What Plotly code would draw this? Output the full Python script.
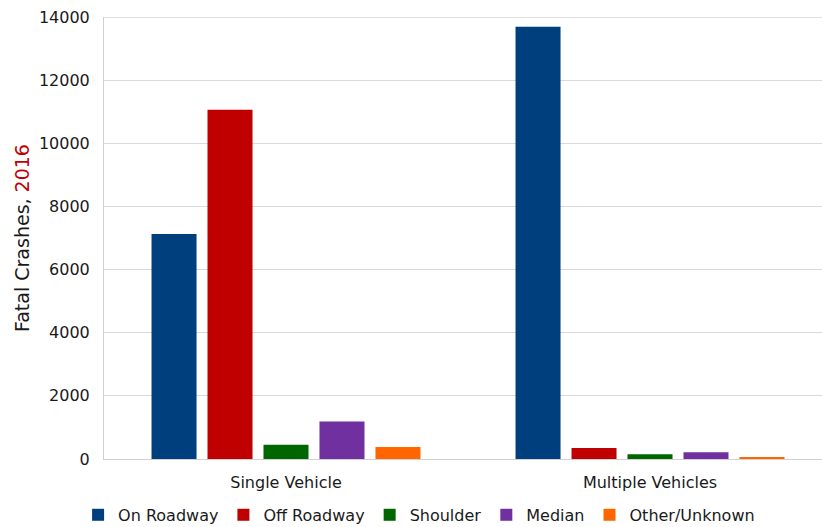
import plotly.graph_objects as go

categories = ["Single Vehicle", "Multiple Vehicles"]
series_names = ["On Roadway", "Off Roadway", "Shoulder", "Median", "Other/Unknown"]
on_roadway = [7130, 13690]
off_roadway = [11060, 350]
shoulder = [450, 150]
median = [1190, 210]
other_unknown = [380, 60]
colors = ["#003F7D", "#C00000", "#006600", "#7030A0", "#FF6600"]
y_ticks = [0, 2000, 4000, 6000, 8000, 10000, 12000, 14000]

series_values = [on_roadway, off_roadway, shoulder, median, other_unknown]

font_family = "DejaVu Sans, Verdana, sans-serif"

fig = go.Figure()
for name, vals, col in zip(series_names, series_values, colors):
    fig.add_trace(go.Bar(
        x=categories, y=vals, name=name,
        marker=dict(color=col, line=dict(width=0)),
    ))

fig.update_layout(
    width=822, height=527,
    margin=dict(l=104, r=0, t=17, b=68, autoexpand=False),
    paper_bgcolor="white", plot_bgcolor="white",
    barmode="group", bargap=0.231, bargroupgap=0.196,
    font=dict(family=font_family, size=16, color="#1a1a1a"),
    legend=dict(
        orientation="h", xref="container", x=0.095, xanchor="left",
        yref="container", y=0.023, yanchor="middle",
        font=dict(size=16), itemwidth=30, traceorder="normal",
    ),
    showlegend=True,
)

# darker top border of the plotting area
fig.add_shape(
    type="line", xref="paper", x0=0, x1=1, yref="y",
    y0=y_ticks[-1], y1=y_ticks[-1],
    line=dict(color="#bfbfbf", width=1), layer="below",
)

fig.update_xaxes(
    type="category",
    range=[-0.5, 1.4725],
    showline=True, linecolor="#d0d0d0", linewidth=1,
    showgrid=False, ticks="", tickfont=dict(size=16),
    ticklabelstandoff=9,
)
fig.update_yaxes(
    range=[0, 14000], tickvals=y_ticks,
    ticktext=[str(v) for v in y_ticks],
    showgrid=True, gridcolor="#d9d9d9", gridwidth=1,
    showline=True, linecolor="#d0d0d0", linewidth=1,
    zeroline=False, ticks="", ticklabelstandoff=10,
    tickfont=dict(size=16),
    title=dict(
        text="Fatal Crashes, <span style='color:#C00000'>2016</span>",
        font=dict(size=19), standoff=4,
    ),
)

fig.write_html("out.html")
